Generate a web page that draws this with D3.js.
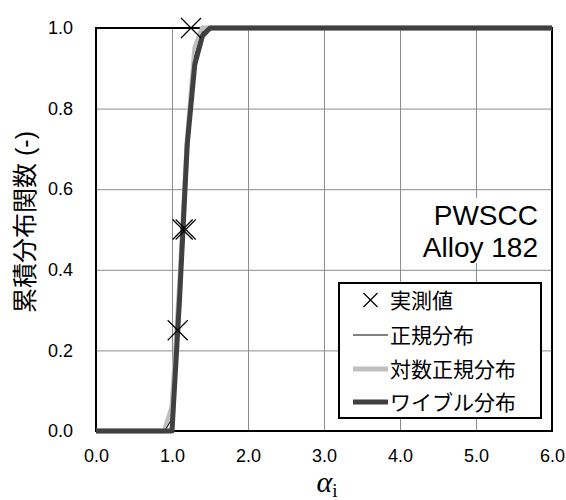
<!DOCTYPE html>
<html>
<head>
<meta charset="utf-8">
<script src="https://cdn.jsdelivr.net/npm/d3@7"></script>
<style>
  body { margin: 0; background: #fff; }
  text { font-family: "Liberation Sans", Arial, sans-serif; }
  .cjk { font-family: "Liberation Sans", "Noto Sans CJK JP", sans-serif; }
</style>
</head>
<body>
<div id="chart"></div>
<script>
// data
let xTicks = [0, 1, 2, 3, 4, 5, 6];
let yTicks = [0, 0.2, 0.4, 0.6, 0.8, 1.0];

let measuredX = [1.075, 1.14, 1.18, 1.25];
let measuredY = [0.25, 0.5, 0.5, 1.0];

let curveX    = [0, 0.9, 1.0, 1.1, 1.2, 1.3, 1.4, 1.5, 6.0];
let normalY   = [0, 0, 0.03, 0.33, 0.71, 0.93, 0.99, 1.0, 1.0];
let lognormY  = [0, 0, 0.06, 0.36, 0.72, 0.95, 1.0, 1.0, 1.0];
let weibullY  = [0, 0, 0, 0.33, 0.71, 0.91, 0.98, 1.0, 1.0];

let legendNames = ["実測値", "正規分布", "対数正規分布", "ワイブル分布"];

var margin = {top: 28, right: 14, bottom: 69, left: 96},
    width = 566 - margin.left - margin.right,
    height = 500 - margin.top - margin.bottom;

var svg = d3.select("#chart")
    .append("svg")
    .attr("width", 566)
    .attr("height", 500)
    .append("g")
    .attr("transform", `translate(${margin.left},${margin.top})`);

var x = d3.scaleLinear().domain([0, 6]).range([0, width]);
var y = d3.scaleLinear().domain([0, 1]).range([height, 0]);

// gridlines
svg.append("g")
    .attr("transform", `translate(0, ${height})`)
    .call(d3.axisBottom(x).tickValues(xTicks.slice(1, -1)).tickSize(-height).tickFormat(""))
    .call(g => g.select(".domain").remove())
    .call(g => g.selectAll("line").attr("stroke", "#8c8c8c"));
svg.append("g")
    .call(d3.axisLeft(y).tickValues(yTicks.slice(1, -1)).tickSize(-width).tickFormat(""))
    .call(g => g.select(".domain").remove())
    .call(g => g.selectAll("line").attr("stroke", "#8c8c8c"));

// tick labels
svg.append("g")
    .attr("transform", `translate(0, ${height})`)
    .call(d3.axisBottom(x).tickValues(xTicks).tickSize(0).tickPadding(18).tickFormat(d3.format(".1f")))
    .call(g => g.select(".domain").remove())
    .call(g => g.selectAll("text").style("font-size", "18px").attr("fill", "#000")
        .style("font-family", "'Liberation Sans', Arial, sans-serif"));
svg.append("g")
    .call(d3.axisLeft(y).tickValues(yTicks).tickSize(0).tickPadding(23).tickFormat(d3.format(".1f")))
    .call(g => g.select(".domain").remove())
    .call(g => g.selectAll("text").style("font-size", "18px").attr("fill", "#000")
        .style("font-family", "'Liberation Sans', Arial, sans-serif"));

// annotation box (white, hides the gridlines)
svg.append("rect")
    .attr("x", 412 - margin.left)
    .attr("y", 198 - margin.top)
    .attr("width", 138)
    .attr("height", 65)
    .attr("fill", "#fff");

// plot frame
svg.append("rect")
    .attr("width", width)
    .attr("height", height)
    .attr("fill", "none")
    .attr("stroke", "#000")
    .attr("stroke-width", 2);

// curves
function curveData(ys) {
    return curveX.map((d, i) => [d, ys[i]]);
}
var line = d3.line().x(d => x(d[0])).y(d => y(d[1]));

svg.append("path")
    .datum(curveData(lognormY))
    .attr("d", line)
    .attr("fill", "none")
    .attr("stroke", "#bfbfbf")
    .attr("stroke-width", 5)
    .attr("stroke-linejoin", "round");
svg.append("path")
    .datum(curveData(normalY))
    .attr("d", line)
    .attr("fill", "none")
    .attr("stroke", "#000")
    .attr("stroke-width", 1);
svg.append("path")
    .datum(curveData(weibullY))
    .attr("d", line)
    .attr("fill", "none")
    .attr("stroke", "#404040")
    .attr("stroke-width", 5)
    .attr("stroke-linejoin", "round");

// measured points as crosses
function cross(g, s) {
    g.append("path")
        .attr("d", `M${-s},${-s}L${s},${s}M${-s},${s}L${s},${-s}`)
        .attr("stroke", "#000")
        .attr("stroke-width", 1.2)
        .attr("fill", "none");
}
measuredX.forEach((d, i) => {
    var g = svg.append("g").attr("transform", `translate(${x(d)},${y(measuredY[i])})`);
    cross(g, 10);
});

// annotation
var note = svg.append("text")
    .attr("text-anchor", "end")
    .style("font-size", "28px")
    .attr("fill", "#000");
note.append("tspan").attr("x", 442).attr("y", 197).text("PWSCC");
note.append("tspan").attr("x", 442).attr("y", 229).text("Alloy 182");

// legend
var lg = svg.append("g").attr("transform", `translate(${339 - margin.left},${283 - margin.top})`);
lg.append("rect")
    .attr("width", 202)
    .attr("height", 135)
    .attr("fill", "#fff")
    .attr("stroke", "#000")
    .attr("stroke-width", 2);

var rowY = [17, 52, 86, 119];
var sx0 = 14, sx1 = 49, tx = 51;
var cg = lg.append("g").attr("transform", `translate(${(sx0 + sx1) / 2},${rowY[0]})`);
cross(cg, 7);
lg.append("line").attr("x1", sx0).attr("x2", sx1).attr("y1", rowY[1]).attr("y2", rowY[1])
    .attr("stroke", "#000").attr("stroke-width", 1);
lg.append("line").attr("x1", sx0).attr("x2", sx1).attr("y1", rowY[2]).attr("y2", rowY[2])
    .attr("stroke", "#bfbfbf").attr("stroke-width", 5);
lg.append("line").attr("x1", sx0).attr("x2", sx1).attr("y1", rowY[3]).attr("y2", rowY[3])
    .attr("stroke", "#404040").attr("stroke-width", 5);

lg.selectAll(".lt")
    .data(legendNames)
    .join("text")
    .attr("class", "cjk")
    .attr("x", tx)
    .attr("y", (d, i) => rowY[i])
    .attr("dy", "0.36em")
    .style("font-size", "21px")
    .attr("fill", "#000")
    .text(d => d);

// axis titles
svg.append("text")
    .attr("class", "cjk")
    .attr("transform", `translate(${25 - margin.left},${222 - margin.top}) rotate(-90)`)
    .attr("text-anchor", "middle")
    .attr("dy", "0.36em")
    .style("font-size", "25px")
    .attr("fill", "#000")
    .text("累積分布関数 (-)");

var xl = svg.append("text")
    .attr("x", 327 - margin.left)
    .attr("y", 492 - margin.top)
    .attr("text-anchor", "middle")
    .attr("fill", "#000")
    .style("font-family", "'Liberation Serif', 'Times New Roman', serif");
xl.append("tspan").style("font-style", "italic").style("font-size", "30px").text("α");
xl.append("tspan").style("font-size", "19px").attr("dy", "5").text("i");
</script>
</body>
</html>
